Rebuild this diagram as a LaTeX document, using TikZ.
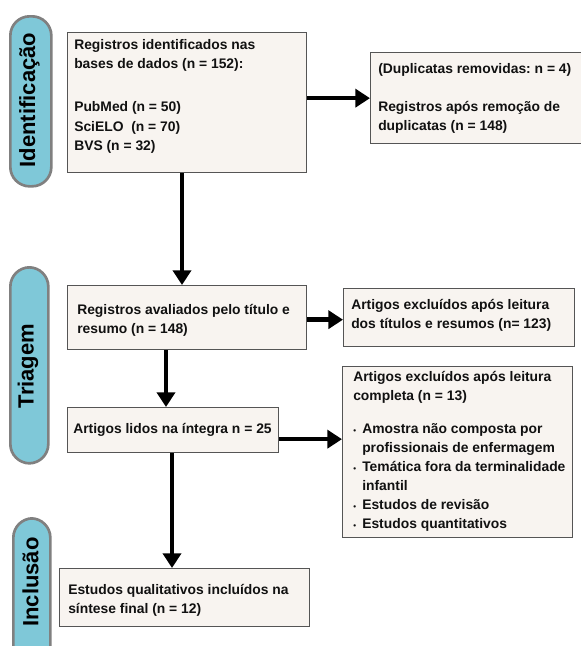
\documentclass[tikz,border=0pt]{standalone}
\usepackage{fontspec}
\setmainfont{Liberation Sans}
\usetikzlibrary{arrows.meta}
\frenchspacing
\definecolor{pillfill}{HTML}{7FC8D8}
\definecolor{pillline}{HTML}{808080}
\definecolor{boxfill}{HTML}{F8F4F0}
\definecolor{boxline}{HTML}{555555}
\definecolor{ink}{HTML}{111111}
\newcommand\flowtxt[1]{\parbox[t]{200pt}{\raggedright #1}}
\newcommand\flowbul{\makebox[6.75pt][l]{\fontsize{6}{6}\selectfont •}}
\tikzset{
  stagepill/.style={draw=pillline, line width=2pt, fill=pillfill, rounded corners=14.5pt, inner sep=0pt, anchor=north west},
  stagetext/.style={rotate=90, font=\bfseries\fontsize{16.5}{18}\selectfont, text=black, inner sep=0pt},
  flowbox/.style={draw=boxline, line width=1pt, fill=boxfill, inner sep=0pt, anchor=north west},
  boxtext/.style={anchor=base west, inner sep=0pt, text=ink, font=\bfseries\fontsize{10.4}{14.25}\selectfont},
  arr/.style={line width=3.4pt, -{Triangle[length=11pt,width=13.5pt]}}
}
\begin{document}
\begin{tikzpicture}[x=0.75pt,y=-0.75pt]
\useasboundingbox (0,0) rectangle (581,646);
\clip (0,0) rectangle (581,646);
% stage pills
\node[stagepill, minimum width={41*0.75pt}, minimum height={170*0.75pt}] (p1) at (9,15) {};
\node[stagetext] (t1) at (29.5,100) {Identificação};
\node[stagepill, minimum width={38*0.75pt}, minimum height={196*0.75pt}] (p2) at (9,266) {};
\node[stagetext] (t2) at (28,366) {Triagem};
\node[stagepill, minimum width={37*0.75pt}, minimum height={180*0.75pt}] (p3) at (12,517) {};
\node[stagetext] (t3) at (30.5,582) {Inclusão};
% boxes
\node[flowbox, minimum width={239*0.75pt}, minimum height={140*0.75pt}] (b1) at (67,32) {};
\node[flowbox, minimum width={211*0.75pt}, minimum height={91*0.75pt}] (b2) at (370,52) {};
\node[flowbox, minimum width={239*0.75pt}, minimum height={64*0.75pt}] (b3) at (67,285) {};
\node[flowbox, minimum width={231*0.75pt}, minimum height={58*0.75pt}] (b4) at (343,288) {};
\node[flowbox, minimum width={211*0.75pt}, minimum height={45*0.75pt}] (b5) at (67,407) {};
\node[flowbox, minimum width={230*0.75pt}, minimum height={171*0.75pt}] (b6) at (342,366) {};
\node[flowbox, minimum width={250*0.75pt}, minimum height={58*0.75pt}] (b7) at (59,568) {};
% texts
\node[boxtext] (x1) at (74,49) {\flowtxt{Registros identificados nas\\bases de dados (n = 152):\\[18.75pt]PubMed (n = 50)\\SciELO\ \ (n = 70)\\BVS (n = 32)}};
\node[boxtext] (x2) at (378,73) {\flowtxt{(Duplicatas removidas: n = 4)\\[14.25pt]Registros após remoção de\\duplicatas (n = 148)}};
\node[boxtext] (x3) at (77,314) {\flowtxt{Registros avaliados pelo título e\\resumo (n = 148)}};
\node[boxtext] (x4) at (351,309) {\flowtxt{Artigos excluídos após leitura\\dos títulos e resumos (n= 123)}};
\node[boxtext] (x5) at (73,433) {\flowtxt{Artigos lidos na íntegra n = 25}};
\node[boxtext] (x6) at (353,381) {\flowtxt{Artigos excluídos após leitura\\completa (n = 13)\\[11pt]%
\flowbul Amostra não composta por\\
\hspace*{6.75pt}profissionais de enfermagem\\
\flowbul Temática fora da terminalidade\\
\hspace*{6.75pt}infantil\\
\flowbul Estudos de revisão\\
\flowbul Estudos quantitativos}};
\node[boxtext] (x7) at (68,594) {\flowtxt{Estudos qualitativos incluídos na\\síntese final (n = 12)}};
% connectors
\path (b1.south west) ++(115,0) coordinate (c1);
\draw[arr] (c1) -- (c1 |- b3.north);
\draw[arr] (b1.east |- b2.west) -- (b2.west);
\path (b3.south west) ++(99,0) coordinate (c3);
\draw[arr] (c3) -- (c3 |- b5.north);
\path (b3.east) ++(0,2) coordinate (c4);
\draw[arr] (c4) -- (c4 -| b4.west);
\path (b5.east) ++(0,9) coordinate (c5);
\draw[arr] (c5) -- (c5 -| b6.west);
\path (b5.south west) ++(105,0) coordinate (c6);
\draw[arr] (c6) -- (c6 |- b7.north);
\end{tikzpicture}
\end{document}
